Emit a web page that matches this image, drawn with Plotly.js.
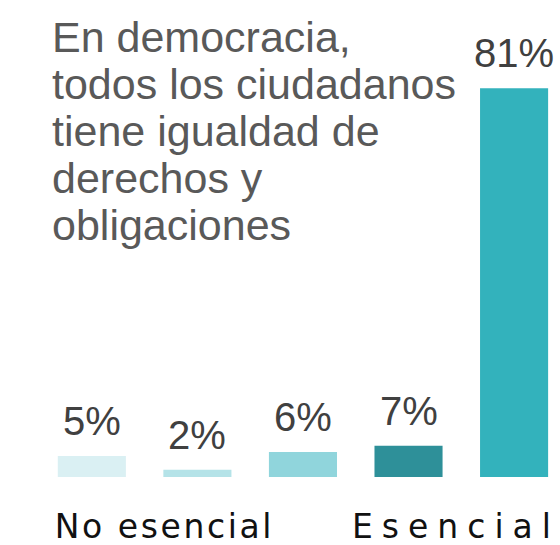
<!DOCTYPE html>
<html>
<head>
<meta charset="utf-8">
<script src="https://cdn.plot.ly/plotly-3.0.1.min.js"></script>
<style>
html,body{margin:0;padding:0;background:#fff;}
#chart{width:560px;height:545px;}
.annotation[data-index="10"] .annotation-text{letter-spacing:2.6px;}
.annotation[data-index="11"] .annotation-text{letter-spacing:9px;}
</style>
</head>
<body>
<div id="chart"></div>
<script>
// Data
const categories = [0, 1, 2, 3, 4];
const values = [4.4, 1.5, 5.2, 6.5, 81];
const valueLabels = ["5%", "2%", "6%", "7%", "81%"];
const barColors = ["#DAF0F3", "#B5E3E8", "#90D5DC", "#2E9099", "#33B2BC"];
const titleLines = ["En democracia,", "todos los ciudadanos", "tiene igualdad de", "derechos y", "obligaciones"];
const scaleLabels = ["No esencial", "Esencial"];

const W = 560, plotTop = 45, plotBottom = 477, plotH = plotBottom - plotTop;
const py = Y => (plotBottom - Y) / plotH;

const annotations = [];
values.forEach((v, i) => {
  annotations.push({
    x: categories[i], y: v, xref: 'x', yref: 'y',
    text: valueLabels[i], showarrow: false,
    xanchor: 'center', yanchor: 'middle', yshift: 35,
    font: {family: 'Liberation Sans, Arial, sans-serif', size: 40, color: '#404040'}
  });
});
titleLines.forEach((t, i) => {
  annotations.push({
    x: 50 / W, y: py(37 + i * 47), xref: 'paper', yref: 'paper',
    text: t, showarrow: false, xanchor: 'left', yanchor: 'middle',
    font: {family: 'Liberation Sans, Arial, sans-serif', size: 43, color: '#595959'}
  });
});
annotations.push({
  x: 164 / W, y: py(526), xref: 'paper', yref: 'paper', text: scaleLabels[0],
  showarrow: false, xanchor: 'center', yanchor: 'middle',
  font: {family: 'DejaVu Sans, sans-serif', size: 33, color: '#111111'}
});
annotations.push({
  x: 456 / W, y: py(526), xref: 'paper', yref: 'paper', text: scaleLabels[1],
  showarrow: false, xanchor: 'center', yanchor: 'middle',
  font: {family: 'DejaVu Sans, sans-serif', size: 33, color: '#111111'}
});

const trace = {
  type: 'bar', x: categories, y: values, width: 0.645,
  marker: {color: barColors, line: {width: 0}},
  hoverinfo: 'none'
};

const layout = {
  width: 560, height: 545,
  margin: {l: 0, r: 0, t: plotTop, b: 545 - plotBottom, pad: 0},
  paper_bgcolor: '#ffffff', plot_bgcolor: '#ffffff',
  showlegend: false,
  xaxis: {range: [-0.87, 4.435], visible: false, fixedrange: true},
  yaxis: {range: [0, 90], visible: false, fixedrange: true},
  annotations: annotations
};

Plotly.newPlot('chart', [trace], layout, {displayModeBar: false, staticPlot: true});
</script>
</body>
</html>
